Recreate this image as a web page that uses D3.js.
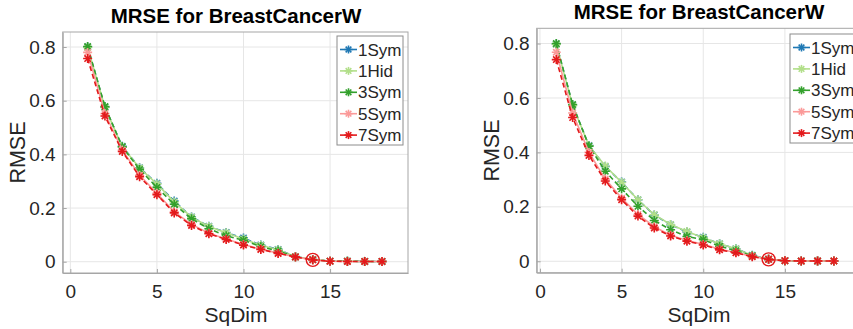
<!DOCTYPE html>
<html>
<head>
<meta charset="utf-8">
<script src="https://cdn.jsdelivr.net/npm/d3@7"></script>
<style>
  body { margin: 0; background: #fff; }
  svg { display: block; font-family: "Liberation Sans", Arial, sans-serif; }
</style>
</head>
<body>
<svg width="853" height="329"></svg>
<script>
// SqDim values on x
const sqDim = [1, 2, 3, 4, 5, 6, 7, 8, 9, 10, 11, 12, 13, 14, 15, 16, 17, 18]

const seriesNames = ["1Sym", "1Hid", "3Sym", "5Sym", "7Sym"]
const seriesColors = ["#1f78b4", "#b2df8a", "#33a02c", "#fb9a99", "#e31a1c"]
const seriesDash = ["5,3", null, "5,3", null, "5,3"]

// left panel
const left1Sym = [0.800, 0.576, 0.430, 0.350, 0.292, 0.226, 0.167, 0.132, 0.109, 0.088, 0.062, 0.046, 0.019, 0.008, 0.002, 0.002, 0.001, 0.001]
const left1Hid = [0.798, 0.575, 0.428, 0.349, 0.290, 0.223, 0.166, 0.131, 0.108, 0.085, 0.061, 0.045, 0.019, 0.008, 0.002, 0.002, 0.001, 0.001]
const left3Sym = [0.802, 0.578, 0.428, 0.344, 0.277, 0.214, 0.160, 0.123, 0.097, 0.080, 0.056, 0.040, 0.018, 0.008, 0.002, 0.002, 0.001, 0.001]
const left5Sym = [0.780, 0.552, 0.416, 0.322, 0.255, 0.186, 0.139, 0.106, 0.085, 0.064, 0.047, 0.032, 0.018, 0.007, 0.002, 0.001, 0.001, 0.001]
const left7Sym = [0.757, 0.543, 0.411, 0.317, 0.250, 0.182, 0.135, 0.104, 0.083, 0.062, 0.046, 0.031, 0.018, 0.007, 0.002, 0.001, 0.001, 0.001]

// right panel
const right1Sym = [0.798, 0.574, 0.425, 0.348, 0.291, 0.226, 0.170, 0.134, 0.108, 0.088, 0.064, 0.046, 0.022, 0.007, 0.002, 0.001, 0.001, 0.001]
const right1Hid = [0.797, 0.572, 0.424, 0.350, 0.290, 0.226, 0.171, 0.135, 0.109, 0.086, 0.064, 0.046, 0.021, 0.007, 0.002, 0.001, 0.001, 0.001]
const right3Sym = [0.800, 0.576, 0.423, 0.331, 0.266, 0.202, 0.150, 0.116, 0.091, 0.080, 0.055, 0.039, 0.020, 0.007, 0.002, 0.001, 0.001, 0.001]
const right5Sym = [0.768, 0.545, 0.400, 0.302, 0.232, 0.172, 0.127, 0.096, 0.076, 0.062, 0.044, 0.032, 0.018, 0.007, 0.002, 0.001, 0.001, 0.001]
const right7Sym = [0.741, 0.528, 0.389, 0.295, 0.226, 0.166, 0.122, 0.093, 0.074, 0.060, 0.042, 0.031, 0.017, 0.007, 0.002, 0.001, 0.001, 0.001]

const xTicks = [0, 5, 10, 15]
const yTicks = [0, 0.2, 0.4, 0.6, 0.8]
const titleText = "MRSE for BreastCancerW"
const highlightX = 14

const svg = d3.select("svg")

function asterisk(g, x, y, color, r) {
    const m = g.append("g").attr("transform", `translate(${x},${y})`)
        .attr("stroke", color).attr("stroke-width", 1.6)
    ;[0, 45, 90, 135].forEach(a => {
        const rad = a * Math.PI / 180
        m.append("line")
            .attr("x1", -r * Math.cos(rad)).attr("y1", -r * Math.sin(rad))
            .attr("x2", r * Math.cos(rad)).attr("y2", r * Math.sin(rad))
    })
}

function drawPanel(cfg) {
    const xScale = d3.scaleLinear().domain(cfg.xDomain).range([cfg.left, cfg.right])
    const yScale = d3.scaleLinear().domain([-0.042, 0.856]).range([cfg.bottom, cfg.top])
    const g = svg.append("g")

    const clipId = "clip" + cfg.id
    svg.append("clipPath").attr("id", clipId).append("rect")
        .attr("x", cfg.left).attr("y", cfg.top)
        .attr("width", cfg.right - cfg.left).attr("height", cfg.bottom - cfg.top)

    // grid
    const grid = g.append("g").attr("stroke", "#e6e6e6").attr("stroke-width", 1)
    xTicks.forEach(t => grid.append("line")
        .attr("x1", xScale(t)).attr("x2", xScale(t))
        .attr("y1", cfg.top).attr("y2", cfg.bottom))
    yTicks.forEach(t => grid.append("line")
        .attr("x1", cfg.left).attr("x2", cfg.right)
        .attr("y1", yScale(t)).attr("y2", yScale(t)))

    // axes
    const xAxis = d3.axisBottom(xScale).tickValues(xTicks).tickSizeInner(-4).tickSizeOuter(0).tickPadding(12)
    const yAxis = d3.axisLeft(yScale).tickValues(yTicks).tickSizeInner(-4).tickSizeOuter(0).tickPadding(7)
        .tickFormat(d => d === 0 ? "0" : d3.format(".1f")(d))

    const xg = g.append("g").attr("transform", `translate(0,${cfg.bottom})`).call(xAxis)
    const yg = g.append("g").attr("transform", `translate(${cfg.left},0)`).call(yAxis)
    ;[xg, yg].forEach(a => {
        a.selectAll("path.domain").attr("stroke", "#a6a6a6")
        a.selectAll("line").attr("stroke", "#a6a6a6")
        a.selectAll("text").attr("fill", "#262626").style("font-size", "19px")
    })

    // box top / right
    g.append("rect")
        .attr("x", cfg.left).attr("y", cfg.top)
        .attr("width", cfg.right - cfg.left).attr("height", cfg.bottom - cfg.top)
        .attr("fill", "none").attr("stroke", "#a6a6a6").attr("stroke-width", 1)

    // series
    const plot = g.append("g").attr("clip-path", `url(#${clipId})`)
    const line = d3.line().x((d, i) => xScale(sqDim[i])).y(d => yScale(d))
    cfg.series.forEach((vals, k) => {
        plot.append("path")
            .attr("d", line(vals))
            .attr("fill", "none")
            .attr("stroke", seriesColors[k])
            .attr("stroke-width", 1.6)
            .attr("stroke-dasharray", seriesDash[k])
        vals.forEach((v, i) => asterisk(plot, xScale(sqDim[i]), yScale(v), seriesColors[k], 4.5))
    })

    // highlighted point
    const hi = sqDim.indexOf(highlightX)
    plot.append("circle")
        .attr("cx", xScale(highlightX)).attr("cy", yScale(cfg.series[4][hi]))
        .attr("r", 6.5).attr("fill", "none")
        .attr("stroke", "#e31a1c").attr("stroke-width", 1.4)

    // title and labels
    svg.append("text")
        .attr("x", cfg.titleX).attr("y", cfg.top - 9)
        .attr("text-anchor", "middle")
        .style("font-size", "20.5px").style("font-weight", "bold")
        .attr("fill", "#000").text(titleText)
    svg.append("text")
        .attr("x", cfg.titleX).attr("y", 322)
        .attr("text-anchor", "middle")
        .style("font-size", "21px").attr("fill", "#262626").text("SqDim")
    svg.append("text")
        .attr("transform", `translate(${cfg.left - 38},${(cfg.top + cfg.bottom) / 2}) rotate(-90)`)
        .attr("text-anchor", "middle")
        .style("font-size", "21.5px").attr("fill", "#262626").text("RMSE")

    // legend
    const lg = svg.append("g")
    lg.append("rect")
        .attr("x", cfg.legX).attr("y", cfg.legY)
        .attr("width", cfg.legW).attr("height", 109)
        .attr("fill", "#fff").attr("stroke", "#8c8c8c").attr("stroke-width", 1)
    seriesNames.forEach((name, k) => {
        const yy = cfg.legY + 13.5 + k * 21.4
        lg.append("line")
            .attr("x1", cfg.legX + 3).attr("x2", cfg.legX + 20)
            .attr("y1", yy).attr("y2", yy)
            .attr("stroke", seriesColors[k]).attr("stroke-width", 1.6)
        asterisk(lg, cfg.legX + 11.5, yy, seriesColors[k], 4)
        lg.append("text")
            .attr("x", cfg.legX + 21).attr("y", yy + 6)
            .style("font-size", "17px").attr("fill", "#262626").text(name)
    })
}

drawPanel({
    id: "L", left: 62.7, right: 408, top: 32, bottom: 273, xDomain: [-0.44, 19.5],
    titleX: 236, legX: 337, legY: 36, legW: 66,
    series: [left1Sym, left1Hid, left3Sym, left5Sym, left7Sym]
})
drawPanel({
    id: "R", left: 536.7, right: 858.4, top: 28.3, bottom: 272.7, xDomain: [-0.2, 19.5],
    titleX: 699, legX: 790, legY: 34, legW: 72,
    series: [right1Sym, right1Hid, right3Sym, right5Sym, right7Sym]
})
</script>
</body>
</html>
